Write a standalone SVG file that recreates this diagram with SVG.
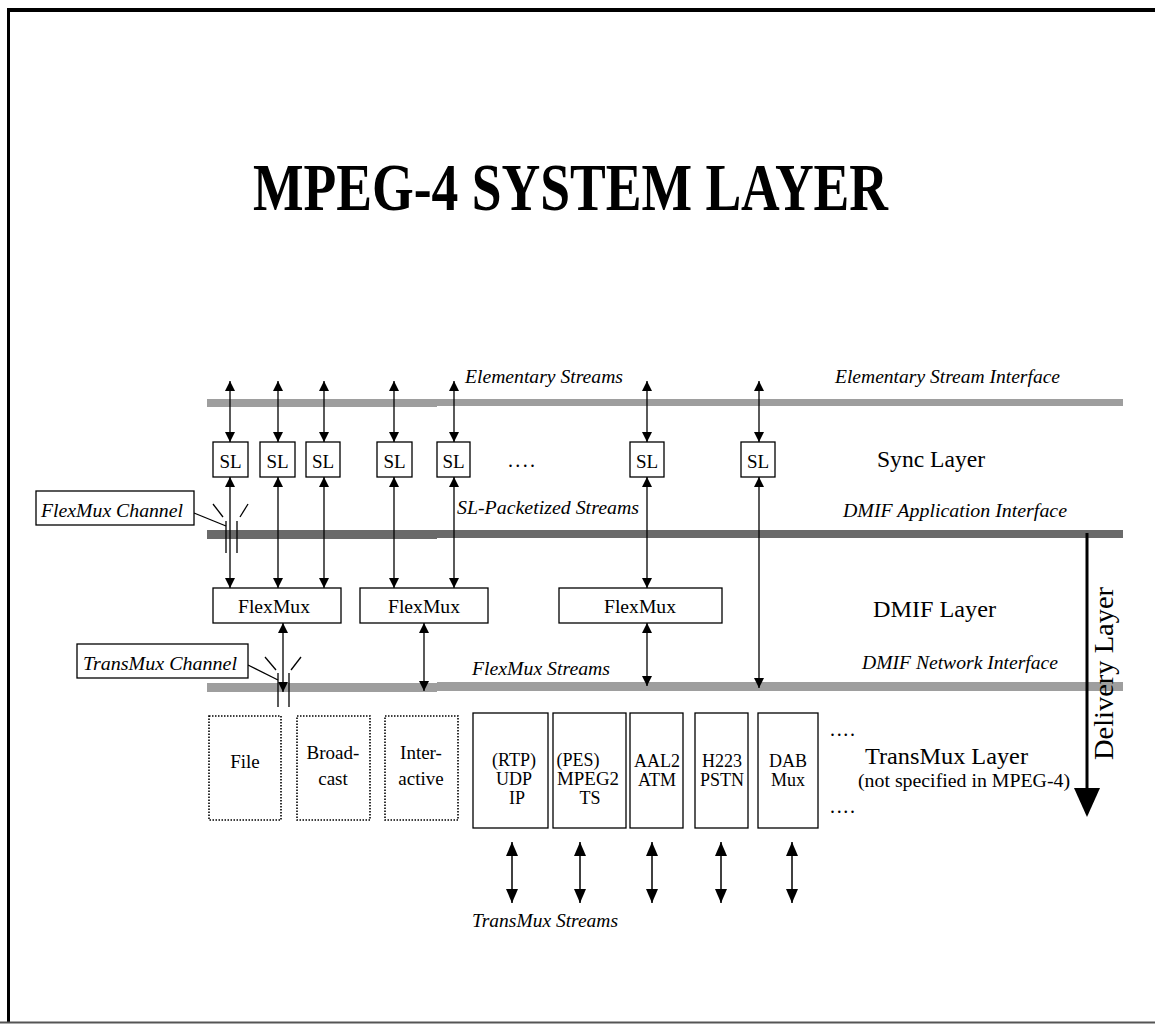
<svg xmlns="http://www.w3.org/2000/svg" width="1155" height="1025" viewBox="0 0 1155 1025">
<defs>
<marker id="ah" viewBox="0 0 10 10" refX="10" refY="5" markerWidth="10" markerHeight="10" markerUnits="userSpaceOnUse" orient="auto-start-reverse"><path d="M0,0 L10,5 L0,10 z" fill="#000"/></marker>
<marker id="ahL" viewBox="0 0 14 12" refX="14" refY="6" markerWidth="14" markerHeight="12" markerUnits="userSpaceOnUse" orient="auto-start-reverse"><path d="M0,0 L14,6 L0,12 z" fill="#000"/></marker>
<style>
.t{font-family:"Liberation Serif","Times New Roman",serif;fill:#000}
.it{font-family:"Liberation Serif","Times New Roman",serif;font-style:italic;font-size:19px;fill:#000}
.big{font-size:24px}
.box{fill:#fff;stroke:#000;stroke-width:1.3}
.dot{fill:#fff;stroke:#000;stroke-width:1.6;stroke-dasharray:1.5,1.5}
.ln{stroke:#000;stroke-width:1.3;fill:none}
.arr{stroke:#000;stroke-width:1.3;fill:none;marker-start:url(#ah);marker-end:url(#ah)}
.arrL{stroke:#000;stroke-width:1.5;fill:none;marker-start:url(#ahL);marker-end:url(#ahL)}
.bt{font-family:"Liberation Serif","Times New Roman",serif;font-size:19px;text-anchor:middle;fill:#000}
.bs{font-family:"Liberation Serif","Times New Roman",serif;font-size:18px;text-anchor:middle;fill:#000}
</style>
</defs>
<rect x="0" y="0" width="1155" height="1025" fill="#fff"/>
<!-- frame -->
<g id="frame">
<rect x="7" y="8" width="1148" height="4" fill="#000"/>
<rect x="7" y="8" width="3" height="1015" fill="#000"/>
<rect x="0" y="1021.5" width="1155" height="2" fill="#555"/>
</g>
<text class="t" x="253" y="210" font-size="68" font-weight="bold" textLength="635" lengthAdjust="spacingAndGlyphs">MPEG-4 SYSTEM LAYER</text>
<!-- interface bars -->
<g id="bars">
<rect x="207" y="399" width="230" height="8" fill="#9e9e9e"/>
<rect x="437" y="399" width="686" height="7" fill="#9e9e9e"/>
<rect x="207" y="530" width="230" height="9" fill="#6a6a6a"/>
<rect x="437" y="530" width="686" height="8" fill="#6a6a6a"/>
<rect x="207" y="683" width="230" height="9" fill="#9e9e9e"/>
<rect x="437" y="682" width="686" height="9" fill="#9e9e9e"/>
</g>
<!-- labels -->
<g id="labels">
<text class="it" x="465" y="383" textLength="158" lengthAdjust="spacingAndGlyphs">Elementary Streams</text>
<text class="it" x="835" y="383" textLength="225" lengthAdjust="spacingAndGlyphs">Elementary Stream Interface</text>
<text class="t big" x="877" y="467" textLength="108" lengthAdjust="spacingAndGlyphs">Sync Layer</text>
<text class="it" x="457" y="514" textLength="182" lengthAdjust="spacingAndGlyphs">SL-Packetized Streams</text>
<text class="it" x="843" y="517" textLength="224" lengthAdjust="spacingAndGlyphs">DMIF Application Interface</text>
<text class="t big" x="873" y="617" textLength="123" lengthAdjust="spacingAndGlyphs">DMIF Layer</text>
<text class="it" x="862" y="669" textLength="196" lengthAdjust="spacingAndGlyphs">DMIF Network Interface</text>
<text class="it" x="472" y="675" textLength="138" lengthAdjust="spacingAndGlyphs">FlexMux Streams</text>
<text class="t big" x="865" y="764" textLength="163" lengthAdjust="spacingAndGlyphs">TransMux Layer</text>
<text class="t" x="858" y="787" font-size="19" textLength="212" lengthAdjust="spacingAndGlyphs">(not specified in MPEG-4)</text>
<text class="t" x="508" y="467" font-size="20" textLength="27" lengthAdjust="spacing">....</text>
<text class="t" x="830" y="736" font-size="20" textLength="25" lengthAdjust="spacing">....</text>
<text class="t" x="830" y="813" font-size="20" textLength="25" lengthAdjust="spacing">....</text>
<text class="it" x="472" y="927" textLength="146" lengthAdjust="spacingAndGlyphs">TransMux Streams</text>
<text class="t" transform="translate(1113,760) rotate(-90)" font-size="28" textLength="173" lengthAdjust="spacingAndGlyphs">Delivery Layer</text>
</g>
<!-- connectors -->
<g id="connectors">
<line class="arr" x1="230" y1="381" x2="230" y2="442"/>
<line class="arr" x1="278" y1="381" x2="278" y2="442"/>
<line class="arr" x1="324" y1="381" x2="324" y2="442"/>
<line class="arr" x1="394" y1="381" x2="394" y2="442"/>
<line class="arr" x1="454" y1="381" x2="454" y2="442"/>
<line class="arr" x1="647" y1="381" x2="647" y2="442"/>
<line class="arr" x1="759" y1="381" x2="759" y2="442"/>
<line class="arr" x1="230" y1="477" x2="230" y2="588"/>
<line class="arr" x1="278" y1="477" x2="278" y2="588"/>
<line class="arr" x1="324" y1="477" x2="324" y2="588"/>
<line class="arr" x1="394" y1="477" x2="394" y2="588"/>
<line class="arr" x1="454" y1="477" x2="454" y2="588"/>
<line class="arr" x1="647" y1="477" x2="647" y2="588"/>
<line class="arr" x1="759" y1="477" x2="759" y2="688"/>
<line class="arr" x1="283" y1="623" x2="283" y2="692"/>
<line class="arr" x1="424" y1="623" x2="424" y2="691"/>
<line class="arr" x1="647" y1="623" x2="647" y2="686"/>
<line class="arrL" x1="512" y1="842" x2="512" y2="903"/>
<line class="arrL" x1="580" y1="842" x2="580" y2="903"/>
<line class="arrL" x1="652" y1="842" x2="652" y2="903"/>
<line class="arrL" x1="721" y1="842" x2="721" y2="903"/>
<line class="arrL" x1="792" y1="842" x2="792" y2="903"/>
<!-- FlexMux channel marks -->
<line class="ln" x1="226" y1="521" x2="226" y2="553"/>
<line class="ln" x1="237" y1="521" x2="237" y2="553"/>
<line class="ln" x1="213" y1="504" x2="223" y2="517"/>
<line class="ln" x1="248" y1="504" x2="240" y2="517"/>
<line class="ln" x1="194" y1="513" x2="226" y2="526"/>
<!-- TransMux channel marks -->
<line class="ln" x1="278" y1="673" x2="278" y2="707"/>
<line class="ln" x1="289" y1="673" x2="289" y2="707"/>
<line class="ln" x1="265" y1="657" x2="276" y2="670"/>
<line class="ln" x1="301" y1="657" x2="291" y2="670"/>
<line class="ln" x1="248" y1="665" x2="278" y2="680"/>
<!-- delivery arrow -->
<line x1="1087" y1="533" x2="1087" y2="792" stroke="#000" stroke-width="3"/>
<polygon points="1074,788 1100,788 1087,817" fill="#000"/>
</g>
<!-- SL nodes -->
<g id="sl1"><rect class="box" x="213" y="442" width="35" height="35"/><text class="bt" x="230.5" y="468" font-size="21">SL</text></g>
<g id="sl2"><rect class="box" x="260" y="442" width="35" height="35"/><text class="bt" x="277.5" y="468" font-size="21">SL</text></g>
<g id="sl3"><rect class="box" x="306" y="442" width="34" height="35"/><text class="bt" x="323" y="468" font-size="21">SL</text></g>
<g id="sl4"><rect class="box" x="377" y="442" width="35" height="35"/><text class="bt" x="394.5" y="468" font-size="21">SL</text></g>
<g id="sl5"><rect class="box" x="437" y="442" width="33" height="35"/><text class="bt" x="453.5" y="468" font-size="21">SL</text></g>
<g id="sl6"><rect class="box" x="630" y="442" width="34" height="35"/><text class="bt" x="647" y="468" font-size="21">SL</text></g>
<g id="sl7"><rect class="box" x="741" y="442" width="34" height="35"/><text class="bt" x="758" y="468" font-size="21">SL</text></g>
<!-- FlexMux nodes -->
<g id="flexmux1"><rect class="box" x="213" y="588" width="128" height="35"/><text class="bt" x="274" y="613" font-size="22" textLength="72" lengthAdjust="spacingAndGlyphs">FlexMux</text></g>
<g id="flexmux2"><rect class="box" x="360" y="588" width="128" height="35"/><text class="bt" x="424" y="613" font-size="22" textLength="72" lengthAdjust="spacingAndGlyphs">FlexMux</text></g>
<g id="flexmux3"><rect class="box" x="559" y="588" width="163" height="35"/><text class="bt" x="640" y="613" font-size="22" textLength="72" lengthAdjust="spacingAndGlyphs">FlexMux</text></g>
<!-- channel labels -->
<g id="flexmux-channel"><rect class="box" x="36" y="491" width="158" height="34"/><text class="it" x="41" y="517" textLength="142" lengthAdjust="spacingAndGlyphs">FlexMux Channel</text></g>
<g id="transmux-channel"><rect class="box" x="77" y="644" width="171" height="34"/><text class="it" x="83" y="670" textLength="154" lengthAdjust="spacingAndGlyphs">TransMux Channel</text></g>
<!-- TransMux nodes -->
<g id="file"><rect class="dot" x="209" y="716" width="72" height="104"/><text class="bt" x="245" y="768">File</text></g>
<g id="broadcast"><rect class="dot" x="297" y="716" width="73" height="104"/><text class="bt" x="333" y="759">Broad-</text><text class="bt" x="333" y="785">cast</text></g>
<g id="interactive"><rect class="dot" x="385" y="716" width="73" height="104"/><text class="bt" x="421" y="759">Inter-</text><text class="bt" x="421" y="785">active</text></g>
<g id="ip"><rect class="box" x="473" y="713" width="75" height="115"/><text class="bs" x="514" y="766">(RTP)</text><text class="bs" x="514" y="785">UDP</text><text class="bs" x="517" y="804">IP</text></g>
<g id="mpeg2ts"><rect class="box" x="553" y="713" width="73" height="115"/><text class="bs" x="578" y="766">(PES)</text><text class="bs" x="588" y="785" textLength="62" lengthAdjust="spacingAndGlyphs">MPEG2</text><text class="bs" x="590" y="804">TS</text></g>
<g id="atm"><rect class="box" x="630" y="713" width="53" height="115"/><text class="bs" x="657" y="767">AAL2</text><text class="bs" x="657" y="786">ATM</text></g>
<g id="pstn"><rect class="box" x="695" y="713" width="53" height="115"/><text class="bs" x="722" y="767">H223</text><text class="bs" x="722" y="786">PSTN</text></g>
<g id="dab"><rect class="box" x="758" y="713" width="60" height="115"/><text class="bs" x="788" y="767">DAB</text><text class="bs" x="788" y="786">Mux</text></g>
</svg>
